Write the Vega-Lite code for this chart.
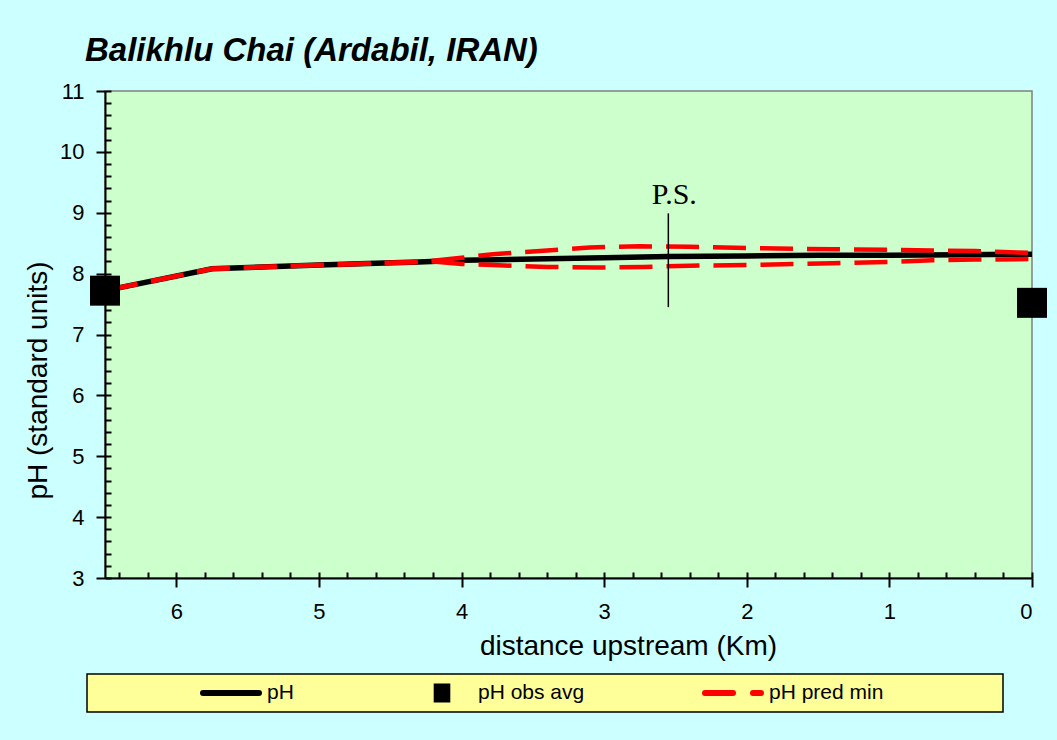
{
  "$schema": "https://vega.github.io/schema/vega-lite/v6.json",
  "width": 927,
  "height": 487,
  "autosize": {"type": "none"},
  "padding": {"left": 105, "top": 91, "right": 25, "bottom": 162},
  "background": "#CCFFFF",
  "title": {
    "text": "Balikhlu Chai (Ardabil, IRAN)",
    "anchor": "start",
    "frame": "group",
    "font": "Liberation Sans",
    "fontSize": 33,
    "fontWeight": "bold",
    "fontStyle": "italic",
    "color": "#000000",
    "dx": -20,
    "dy": 32,
    "offset": 18,
    "baseline": "alphabetic"
  },
  "config": {
    "view": {"fill": "#CCFFCC", "stroke": "#808080", "strokeWidth": 1.5},
    "axis": {"grid": false}
  },
  "datasets": {
    "lines": [
      {"series": "pH", "leg": "pH", "km": 6.5, "ph": 7.72},
      {"series": "pH", "leg": "pH", "km": 5.75, "ph": 8.08},
      {"series": "pH", "leg": "pH", "km": 5.4, "ph": 8.11},
      {"series": "pH", "leg": "pH", "km": 5.0, "ph": 8.14},
      {"series": "pH", "leg": "pH", "km": 4.6, "ph": 8.17},
      {"series": "pH", "leg": "pH", "km": 4.3, "ph": 8.19},
      {"series": "pH", "leg": "pH", "km": 4.0, "ph": 8.22},
      {"series": "pH", "leg": "pH", "km": 3.5, "ph": 8.24},
      {"series": "pH", "leg": "pH", "km": 3.0, "ph": 8.26},
      {"series": "pH", "leg": "pH", "km": 2.55, "ph": 8.28},
      {"series": "pH", "leg": "pH", "km": 2.0, "ph": 8.29},
      {"series": "pH", "leg": "pH", "km": 1.5, "ph": 8.3},
      {"series": "pH", "leg": "pH", "km": 1.0, "ph": 8.3},
      {"series": "pH", "leg": "pH", "km": 0.5, "ph": 8.31},
      {"series": "pH", "leg": "pH", "km": 0.0, "ph": 8.32}
    ],
    "pred": [
      {"series": "pH pred max", "leg": "pH pred min", "km": 6.5, "ph": 7.72},
      {"series": "pH pred max", "leg": "pH pred min", "km": 5.75, "ph": 8.08},
      {"series": "pH pred max", "leg": "pH pred min", "km": 5.0, "ph": 8.14},
      {"series": "pH pred max", "leg": "pH pred min", "km": 4.3, "ph": 8.19},
      {"series": "pH pred max", "leg": "pH pred min", "km": 4.2, "ph": 8.21},
      {"series": "pH pred max", "leg": "pH pred min", "km": 4.0, "ph": 8.26},
      {"series": "pH pred max", "leg": "pH pred min", "km": 3.78, "ph": 8.32},
      {"series": "pH pred max", "leg": "pH pred min", "km": 3.45, "ph": 8.37},
      {"series": "pH pred max", "leg": "pH pred min", "km": 3.1, "ph": 8.43},
      {"series": "pH pred max", "leg": "pH pred min", "km": 2.75, "ph": 8.45},
      {"series": "pH pred max", "leg": "pH pred min", "km": 2.4, "ph": 8.44},
      {"series": "pH pred max", "leg": "pH pred min", "km": 2.0, "ph": 8.42},
      {"series": "pH pred max", "leg": "pH pred min", "km": 1.4, "ph": 8.4},
      {"series": "pH pred max", "leg": "pH pred min", "km": 1.0, "ph": 8.39},
      {"series": "pH pred max", "leg": "pH pred min", "km": 0.7, "ph": 8.38},
      {"series": "pH pred max", "leg": "pH pred min", "km": 0.4, "ph": 8.37},
      {"series": "pH pred max", "leg": "pH pred min", "km": 0.0, "ph": 8.34},
      {"series": "pH pred min", "leg": "pH pred min", "km": 6.5, "ph": 7.72},
      {"series": "pH pred min", "leg": "pH pred min", "km": 5.75, "ph": 8.08},
      {"series": "pH pred min", "leg": "pH pred min", "km": 5.0, "ph": 8.14},
      {"series": "pH pred min", "leg": "pH pred min", "km": 4.3, "ph": 8.19},
      {"series": "pH pred min", "leg": "pH pred min", "km": 4.2, "ph": 8.2},
      {"series": "pH pred min", "leg": "pH pred min", "km": 4.0, "ph": 8.16},
      {"series": "pH pred min", "leg": "pH pred min", "km": 3.78, "ph": 8.14},
      {"series": "pH pred min", "leg": "pH pred min", "km": 3.4, "ph": 8.11},
      {"series": "pH pred min", "leg": "pH pred min", "km": 3.05, "ph": 8.1},
      {"series": "pH pred min", "leg": "pH pred min", "km": 2.72, "ph": 8.11},
      {"series": "pH pred min", "leg": "pH pred min", "km": 2.4, "ph": 8.13},
      {"series": "pH pred min", "leg": "pH pred min", "km": 2.0, "ph": 8.14},
      {"series": "pH pred min", "leg": "pH pred min", "km": 1.4, "ph": 8.17},
      {"series": "pH pred min", "leg": "pH pred min", "km": 1.0, "ph": 8.19},
      {"series": "pH pred min", "leg": "pH pred min", "km": 0.7, "ph": 8.22},
      {"series": "pH pred min", "leg": "pH pred min", "km": 0.4, "ph": 8.23},
      {"series": "pH pred min", "leg": "pH pred min", "km": 0.0, "ph": 8.24}
    ],
    "obs": [
      {"series": "pH obs avg", "leg": "pH obs avg", "km": 6.5, "ph": 7.72},
      {"series": "pH obs avg", "leg": "pH obs avg", "km": 0.0, "ph": 7.52}
    ],
    "notes": [
      {"label": "P.S.", "km": 2.55, "ph": 9.14, "ph_lo": 7.45, "ph_hi": 8.99}
    ]
  },
  "resolve": {"axis": {"x": "independent", "y": "independent"}},
  "layer": [
    {
      "data": {"name": "lines"},
      "mark": {"type": "line", "strokeWidth": 5.5, "clip": false},
      "encoding": {
        "x": {
          "field": "km", "type": "quantitative",
          "scale": {"domain": [0, 6.5], "reverse": true, "nice": false, "zero": false},
          "axis": {
            "orient": "bottom",
            "values": [0, 1, 2, 3, 4, 5, 6],
            "title": "distance upstream (Km)",
            "titleFont": "Liberation Sans", "titleFontSize": 28, "titleFontWeight": "normal", "titleColor": "#000000",
            "titleX": 523, "titleY": 76, "titleBaseline": "alphabetic", "titleAlign": "center", "titleAnchor": null,
            "labelFont": "Liberation Sans", "labelFontSize": 22, "labelColor": "#000000", "labelPadding": 14,
            "domainColor": "#000000", "domainWidth": 2,
            "tickColor": "#000000", "tickWidth": 2, "tickSize": 9,
            "grid": false
          }
        },
        "y": {
          "field": "ph", "type": "quantitative",
          "scale": {"domain": [3, 11], "nice": false, "zero": false},
          "axis": {
            "orient": "left",
            "values": [3, 4, 5, 6, 7, 8, 9, 10, 11],
            "title": "pH (standard units)",
            "titleFont": "Liberation Sans", "titleFontSize": 28, "titleFontWeight": "normal", "titleColor": "#000000",
            "titleX": -59, "titleY": 289, "titleBaseline": "alphabetic", "titleAlign": "center", "titleAngle": -90, "titleAnchor": null,
            "labelFont": "Liberation Sans", "labelFontSize": 22, "labelColor": "#000000", "labelPadding": 12,
            "domainColor": "#000000", "domainWidth": 2,
            "tickColor": "#000000", "tickWidth": 2, "tickSize": 9,
            "grid": false
          }
        },
        "color": {
          "field": "leg", "type": "nominal",
          "scale": {"domain": ["pH", "pH obs avg", "pH pred min"], "range": ["#000000", "#000000", "#FF0000"]},
          "legend": {
            "orient": "none", "legendX": -18, "legendY": 583,
            "direction": "horizontal",
            "title": "\u00a0", "titleOrient": "left", "titlePadding": 105, "titleFontSize": 10,
            "fillColor": "#FFFF99", "strokeColor": "#000000",
            "padding": 8, "clipHeight": 22,
            "symbolType": "stroke", "symbolSize": 3136, "symbolStrokeWidth": 6,
            "labelFont": "Liberation Sans", "labelFontSize": 21, "labelColor": "#000000", "labelOffset": 5,
            "labelLimit": 500,
            "columnPadding": 117,
            "labelExpr": "datum.label === 'pH pred min' ? datum.label + '\u00a0\u00a0\u00a0\u00a0\u00a0\u00a0\u00a0\u00a0\u00a0\u00a0\u00a0\u00a0\u00a0\u00a0\u00a0\u00a0\u00a0\u00a0\u00a0\u200b' : datum.label",
            "encode": {
              "legend": {"update": {"strokeWidth": {"value": 1.5}}},
              "symbols": {
                "update": {
                  "shape": {"signal": "datum.value === 'pH obs avg' ? 'M-0.19,-0.23H0.19V0.23H-0.19Z' : 'stroke'"},
                  "fill": {"signal": "datum.value === 'pH obs avg' ? '#000000' : 'transparent'"},
                  "stroke": {"signal": "datum.value === 'pH pred min' ? '#FF0000' : (datum.value === 'pH' ? '#000000' : 'transparent')"},
                  "strokeDash": {"signal": "datum.value === 'pH pred min' ? [28, 20] : [1, 0]"},
                  "strokeCap": {"value": "round"},
                  "opacity": {"value": 1}
                }
              }
            }
          }
        }
      }
    },
    {
      "data": {"name": "pred"},
      "mark": {"type": "line", "strokeWidth": 4.5, "strokeDash": [33, 14], "clip": false},
      "encoding": {
        "x": {"field": "km", "type": "quantitative", "axis": null},
        "y": {"field": "ph", "type": "quantitative", "axis": null},
        "color": {"field": "leg", "type": "nominal"},
        "detail": {"field": "series"}
      }
    },
    {
      "data": {"name": "obs"},
      "mark": {"type": "point", "shape": "square", "filled": true, "size": 900, "opacity": 1, "strokeWidth": 0},
      "encoding": {
        "x": {"field": "km", "type": "quantitative", "axis": null},
        "y": {"field": "ph", "type": "quantitative", "axis": null},
        "color": {"field": "leg", "type": "nominal"}
      }
    },
    {
      "data": {"name": "notes"},
      "mark": {"type": "rule", "color": "#000000", "strokeWidth": 1.5},
      "encoding": {
        "x": {"field": "km", "type": "quantitative", "axis": null},
        "y": {"field": "ph_lo", "type": "quantitative", "axis": null},
        "y2": {"field": "ph_hi"}
      }
    },
    {
      "data": {"name": "notes"},
      "mark": {"type": "text", "font": "Liberation Serif", "fontSize": 30, "color": "#000000", "align": "center", "baseline": "alphabetic", "dx": 6},
      "encoding": {
        "x": {
          "field": "km", "type": "quantitative",
          "axis": {
            "orient": "bottom",
            "values": [0, 0.2, 0.4, 0.6, 0.8, 1, 1.2, 1.4, 1.6, 1.8, 2, 2.2, 2.4, 2.6, 2.8, 3, 3.2, 3.4, 3.6, 3.8, 4, 4.2, 4.4, 4.6, 4.8, 5, 5.2, 5.4, 5.6, 5.8, 6, 6.2, 6.4],
            "labels": false, "domain": false, "title": null, "grid": false,
            "tickColor": "#000000", "tickWidth": 2, "tickSize": -6
          }
        },
        "y": {
          "field": "ph", "type": "quantitative",
          "axis": {
            "orient": "left",
            "values": [3, 3.2, 3.4, 3.6, 3.8, 4, 4.2, 4.4, 4.6, 4.8, 5, 5.2, 5.4, 5.6, 5.8, 6, 6.2, 6.4, 6.6, 6.8, 7, 7.2, 7.4, 7.6, 7.8, 8, 8.2, 8.4, 8.6, 8.8, 9, 9.2, 9.4, 9.6, 9.8, 10, 10.2, 10.4, 10.6, 10.8, 11],
            "labels": false, "domain": false, "title": null, "grid": false,
            "tickColor": "#000000", "tickWidth": 2, "tickSize": -6
          }
        },
        "text": {"field": "label"}
      }
    }
  ]
}
